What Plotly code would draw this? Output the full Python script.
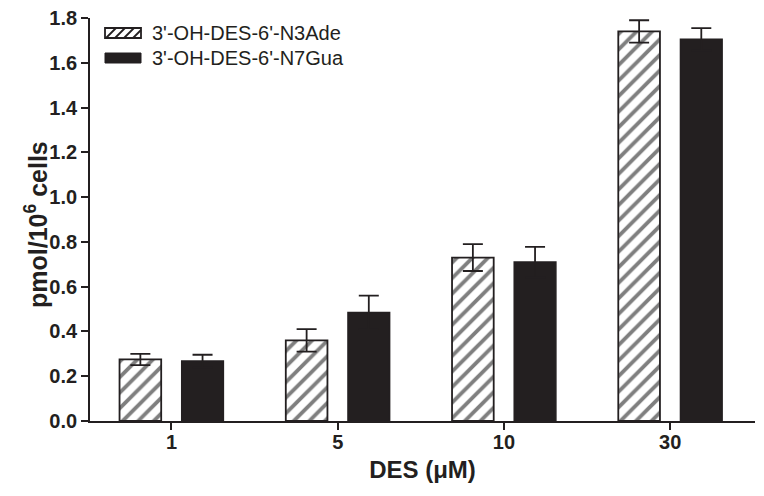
import plotly.graph_objects as go

categories = ["1", "5", "10", "30"]
n3ade = [0.275, 0.36, 0.73, 1.74]
n3ade_err = [0.025, 0.05, 0.06, 0.05]
n7gua = [0.268, 0.485, 0.71, 1.705]
n7gua_err = [0.028, 0.075, 0.068, 0.05]
yticks = [0.0, 0.2, 0.4, 0.6, 0.8, 1.0, 1.2, 1.4, 1.6, 1.8]
names = ["3'-OH-DES-6'-N3Ade", "3'-OH-DES-6'-N7Gua"]

INK = "#231f20"
FONT = "Liberation Sans, Arial, sans-serif"

fig = go.Figure()
fig.add_trace(go.Bar(
    x=categories, y=n3ade, name=names[0],
    marker=dict(color="white", line=dict(color=INK, width=1.8),
                pattern=dict(shape="/", fgcolor="black", bgcolor="white", size=11, solidity=0.35)),
    error_y=dict(type="data", array=n3ade_err, color=INK, thickness=1.8, width=10),
))
fig.add_trace(go.Bar(
    x=categories, y=n7gua, name=names[1],
    marker=dict(color=INK, line=dict(color=INK, width=1.5)),
    error_y=dict(type="data", array=n7gua_err, color=INK, thickness=1.8, width=10),
))

# custom legend (wide swatches like the reference); positions in px relative to plot area
W, H = 665.0, 403.0
def px_x(p):
    return p / W
def px_y(p):
    return 1 - p / H

sx0, sx1 = 15, 51
rows = [(10, 20), (35, 45)]
y0, y1 = rows[0]
fig.add_shape(type="rect", xref="paper", yref="paper",
              x0=px_x(sx0), x1=px_x(sx1), y0=px_y(y1), y1=px_y(y0),
              line=dict(color=INK, width=1.8), fillcolor="white")
for k in range(4):
    xa = sx0 + 1 + k * 9
    xb = min(xa + 10, sx1)
    fig.add_shape(type="line", xref="paper", yref="paper",
                  x0=px_x(xa), y0=px_y(y1), x1=px_x(xb), y1=px_y(y1 - (xb - xa)),
                  line=dict(color=INK, width=1.8))
y0, y1 = rows[1]
fig.add_shape(type="rect", xref="paper", yref="paper",
              x0=px_x(sx0), x1=px_x(sx1), y0=px_y(y1), y1=px_y(y0),
              line=dict(color=INK, width=1), fillcolor=INK)
for (y0, y1), nm in zip(rows, names):
    fig.add_annotation(xref="paper", yref="paper", x=px_x(60), y=px_y((y0 + y1) / 2),
                       text=nm, showarrow=False, xanchor="left", yanchor="middle",
                       font=dict(size=20, color=INK, family=FONT))

# y-axis title as annotation for exact placement
fig.add_annotation(xref="paper", yref="paper", x=px_x(-54), y=px_y(206),
                   text="<b>pmol/10<sup>6</sup> cells</b>", textangle=-90, showarrow=False,
                   xanchor="center", yanchor="middle", font=dict(size=25, color=INK, family=FONT))

# page body has an 8px margin: figure is sized to end at the window edge
fig.update_layout(
    width=756, height=488,
    margin=dict(l=82, r=9, t=10, b=75, autoexpand=False),
    paper_bgcolor="white", plot_bgcolor="white",
    barmode="group", bargap=0.252, bargroupgap=0.33,
    font=dict(family=FONT, color=INK),
    showlegend=False,
    xaxis=dict(
        type="category", range=[-0.49, 3.51], automargin=False,
        showline=True, linecolor=INK, linewidth=1.8,
        ticks="outside", ticklen=7, tickwidth=1.8, tickcolor=INK,
        tickfont=dict(size=20, family=FONT, color=INK), ticklabeloverflow="allow",
        ticklabelstandoff=-5,
        tickvals=categories, ticktext=["<b>%s</b>" % c for c in categories],
        title=dict(text="<b>DES (μM)</b>", font=dict(size=24, color=INK), standoff=9),
        showgrid=False, zeroline=False,
    ),
    yaxis=dict(
        range=[0, 1.8], automargin=False, tickvals=yticks,
        ticktext=["<b>%.1f</b>" % v for v in yticks],
        showline=True, linecolor=INK, linewidth=1.8,
        ticks="outside", ticklen=7, tickwidth=1.8, tickcolor=INK,
        tickfont=dict(size=20, family=FONT, color=INK), ticklabeloverflow="allow",
        showgrid=False, zeroline=False,
    ),
)

fig.write_html("out.html")
